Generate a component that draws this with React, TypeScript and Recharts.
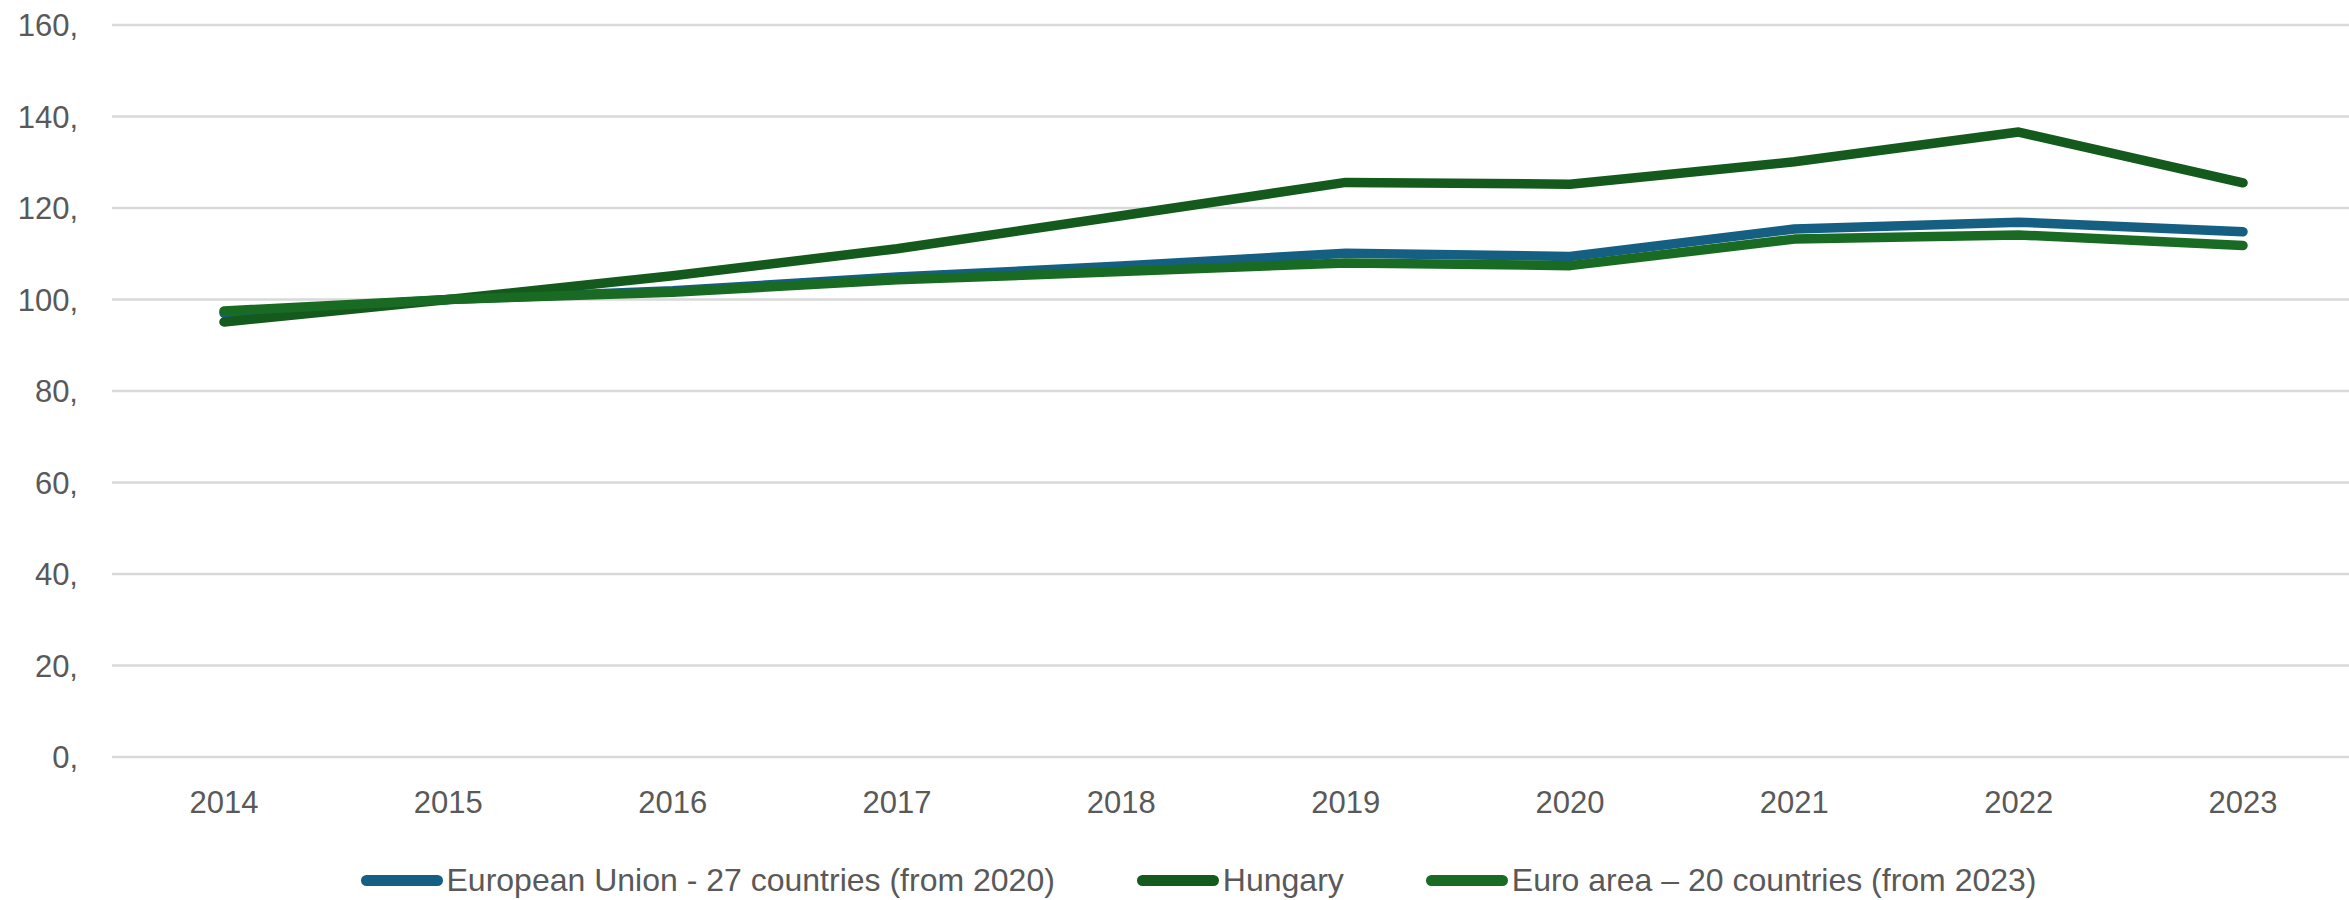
import React from "react";
import {
  LineChart,
  Line,
  XAxis,
  YAxis,
  CartesianGrid,
  Legend,
} from "recharts";

const years = ["2014", "2015", "2016", "2017", "2018", "2019", "2020", "2021", "2022", "2023"];
const euValues = [97.0, 100, 101.9, 104.9, 107.3, 110.1, 109.4, 115.4, 116.9, 114.8];
const huValues = [95.1, 100, 105.2, 111.1, 118.3, 125.6, 125.2, 130.1, 136.6, 125.5];
const eaValues = [97.5, 100, 101.6, 104.3, 106.1, 108.0, 107.4, 113.2, 114.1, 111.8];
const yTicks = [0, 20, 40, 60, 80, 100, 120, 140, 160];

const seriesInfo = [
  { key: "eu", name: "European Union - 27 countries (from 2020)", color: "#156082" },
  { key: "hu", name: "Hungary", color: "#145a1c" },
  { key: "ea", name: "Euro area – 20 countries (from 2023)", color: "#196b24" },
];

const data = years.map((year, i) => ({
  year,
  eu: euValues[i],
  hu: huValues[i],
  ea: eaValues[i],
}));

const FONT = '"Liberation Sans", Arial, sans-serif';
const TEXT_COLOR = "#595959";

const LegendContent = () => (
  <div
    style={{
      display: "flex",
      justifyContent: "center",
      alignItems: "center",
      height: 40,
      gap: 82,
      fontFamily: FONT,
      fontSize: 32,
      color: TEXT_COLOR,
      paddingLeft: 48,
    }}
  >
    {seriesInfo.map((s) => (
      <div key={s.key} style={{ display: "flex", alignItems: "center" }}>
        <span
          style={{
            display: "inline-block",
            width: 82,
            height: 11,
            borderRadius: 6,
            background: s.color,
            marginRight: 4,
          }}
        />
        <span>{s.name}</span>
      </div>
    ))}
  </div>
);

const App: React.FC = () => {
  return (
    <div style={{ position: "absolute", left: 0, top: 0, background: "#fff" }}>
      <LineChart
        width={2349}
        height={900}
        data={data}
        margin={{ top: 25, right: 0, bottom: 0, left: 0 }}
      >
        <CartesianGrid vertical={false} stroke="#d9d9d9" strokeWidth={2.5} />
        <XAxis
          dataKey="year"
          axisLine={false}
          tickLine={false}
          tickSize={0}
          tickMargin={34}
          height={103}
          interval={0}
          padding={{ left: 112, right: 106 }}
          tick={{ fill: TEXT_COLOR, fontSize: 31, fontFamily: FONT }}
        />
        <YAxis
          domain={[0, 160]}
          ticks={yTicks}
          width={112}
          axisLine={false}
          tickLine={false}
          tickSize={0}
          tickMargin={34}
          tickFormatter={(v: number) => `${v},`}
          tick={{ fill: TEXT_COLOR, fontSize: 31, fontFamily: FONT }}
        />
        <Legend verticalAlign="bottom" content={<LegendContent />} />
        {seriesInfo.map((s) => (
          <Line
            key={s.key}
            type="linear"
            dataKey={s.key}
            name={s.name}
            stroke={s.color}
            strokeWidth={9.5}
            strokeLinecap="round"
            strokeLinejoin="round"
            dot={false}
            activeDot={false}
            isAnimationActive={false}
          />
        ))}
      </LineChart>
    </div>
  );
};

export default App;
